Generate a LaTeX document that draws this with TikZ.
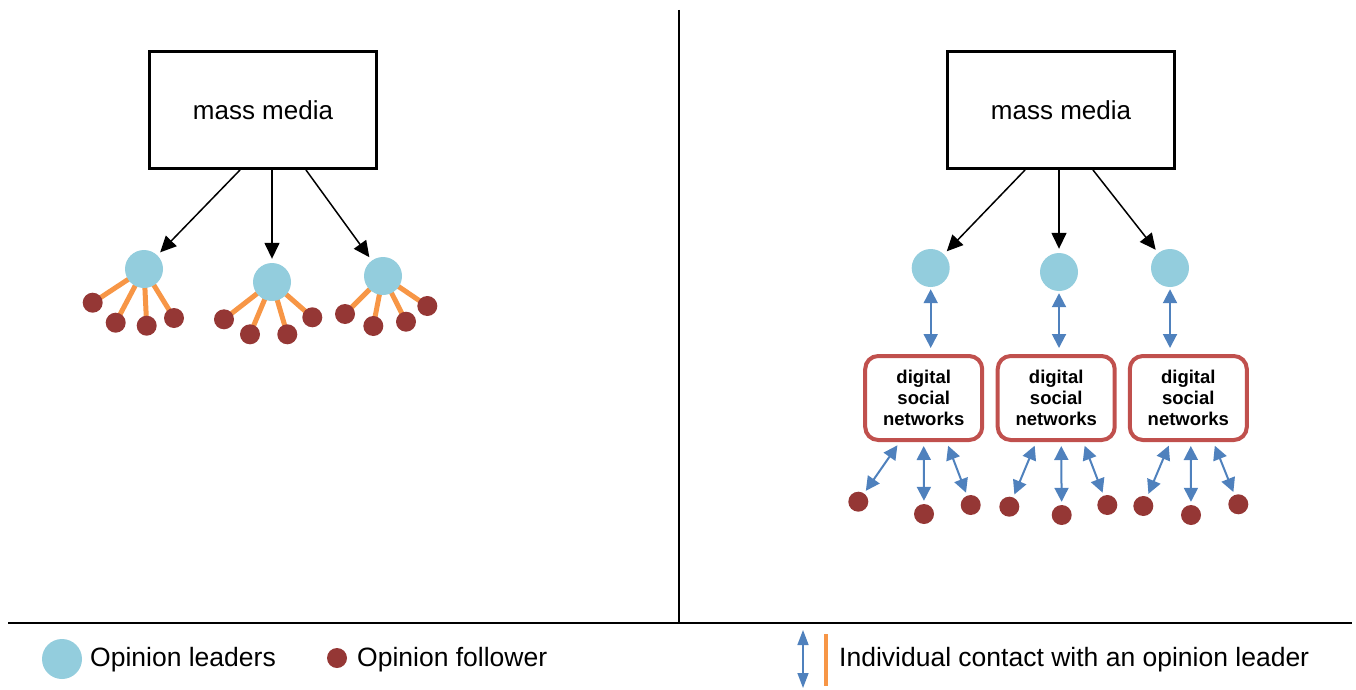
\documentclass[tikz,border=0pt]{standalone}
\usepackage{fontspec}
\setmainfont{Liberation Sans}
\usetikzlibrary{arrows.meta,calc}
\definecolor{leader}{HTML}{93CDDD}
\definecolor{follower}{HTML}{953735}
\definecolor{dsnred}{HTML}{C0504D}
\definecolor{linkblue}{HTML}{4F81BD}
\definecolor{tieorange}{HTML}{F79646}
\pgfdeclarelayer{bg}
\pgfsetlayers{bg,main}
\begin{document}
\begin{tikzpicture}[x=1pt,y=-1pt,
 leadernode/.style={circle,fill=leader,minimum size=38pt,inner sep=0pt},
 follownode/.style={circle,fill=follower,minimum size=20pt,inner sep=0pt},
 mediabox/.style={draw,line width=3pt,minimum width=227pt,minimum height=117pt,font=\fontsize{26}{30}\selectfont},
 dsnbox/.style={draw=dsnred,line width=4pt,rounded corners=13pt,minimum width=117pt,minimum height=84pt,align=center,inner sep=0pt,font=\fontsize{18.5}{21}\selectfont\bfseries},
 mediaarrow/.style={-{Triangle[length=16pt,width=15pt]},line width=1.5pt,shorten >=4pt},
 link/.style={{Triangle[length=14pt,width=14pt]}-{Triangle[length=14pt,width=14pt]},color=linkblue,line width=2pt},
 tie/.style={draw=tieorange,line width=5pt},
 legendtext/.style={anchor=west,inner sep=0pt,font=\fontsize{26.5}{30}\selectfont},
 ]
\useasboundingbox (0,0) rectangle (1356,690);

% frame lines
\coordinate (vtop) at (679,10);
\coordinate (vbot) at (679,623);
\coordinate (hl) at (8,623);
\coordinate (hr) at (1352,623);
\draw[line width=1.5pt] (vtop) -- (vbot);
\draw[line width=2pt] (hl) -- (hr);

% ---------------- left panel ----------------
\node[mediabox] (mmL) at (263,110) {mass media};
\node[leadernode] (L1) at (144,269) {};
\node[leadernode] (L2) at (272,282) {};
\node[leadernode] (L3) at (383,276) {};

\draw[mediaarrow] ($(mmL.south)+(-23,0)$) -- (L1);
\draw[mediaarrow] ($(mmL.south)+(9,0)$) -- (L2);
\draw[mediaarrow] ($(mmL.south)+(43,0)$) -- (L3);

\node[follownode] (a1) at (92.7,302.7) {};
\node[follownode] (a2) at (115.7,322.7) {};
\node[follownode] (a3) at (146.7,325.7) {};
\node[follownode] (a4) at (174,318) {};
\node[follownode] (b1) at (224,319.3) {};
\node[follownode] (b2) at (250,334.3) {};
\node[follownode] (b3) at (287.3,334.3) {};
\node[follownode] (b4) at (312.3,317.3) {};
\node[follownode] (c1) at (345,314) {};
\node[follownode] (c2) at (373.3,326) {};
\node[follownode] (c3) at (406,321.7) {};
\node[follownode] (c4) at (427.3,306) {};

\begin{pgfonlayer}{bg}
\foreach \f in {a1,a2,a3,a4} \draw[tie] (L1.center) -- (\f.center);
\foreach \f in {b1,b2,b3,b4} \draw[tie] (L2.center) -- (\f.center);
\foreach \f in {c1,c2,c3,c4} \draw[tie] (L3.center) -- (\f.center);
\end{pgfonlayer}

% ---------------- right panel ----------------
\node[mediabox] (mmR) at (1061,110) {mass media};
\node[leadernode] (R1) at (930.7,268) {};
\node[leadernode] (R2) at (1059,272) {};
\node[leadernode] (R3) at (1170,268) {};

\draw[mediaarrow] ($(mmR.south)+(-36,0)$) -- (R1);
\draw[mediaarrow] (mmR.south -| R2) -- (R2);
\draw[mediaarrow] ($(mmR.south)+(32,0)$) -- (R3);

\node[dsnbox] (D1) at (923.7,398) {digital\\social\\networks};
\node[dsnbox] (D2) at (1056.2,398) {digital\\social\\networks};
\node[dsnbox] (D3) at (1188.3,398) {digital\\social\\networks};

\draw[link,shorten <=2pt,shorten >=6pt] (R1.south) -- (R1.south |- D1.north);
\draw[link,shorten <=2pt,shorten >=6pt] (R2.south) -- (R2.south |- D2.north);
\draw[link,shorten <=2pt,shorten >=6pt] (R3.south) -- (R3.south |- D3.north);

\node[follownode] (p1) at (858.3,501.7) {};
\node[follownode] (p2) at (924,514) {};
\node[follownode] (p3) at (970.7,505) {};
\node[follownode] (q1) at (1009.3,506.7) {};
\node[follownode] (q2) at (1061.7,515) {};
\node[follownode] (q3) at (1107.3,505) {};
\node[follownode] (s1) at (1143.3,506) {};
\node[follownode] (s2) at (1191,515) {};
\node[follownode] (s3) at (1238.3,504.3) {};

\draw[link,shorten <=4pt,shorten >=3pt] ($(D1.south)+(-24,0)$) -- (p1);
\draw[link,shorten <=4pt,shorten >=3pt] ($(D1.south)+(0,0)$) -- (p2);
\draw[link,shorten <=4pt,shorten >=3pt] ($(D1.south)+(23,0)$) -- (p3);
\draw[link,shorten <=4pt,shorten >=3pt] ($(D2.south)+(-20,0)$) -- (q1);
\draw[link,shorten <=4pt,shorten >=3pt] ($(D2.south)+(5,0)$) -- (q2);
\draw[link,shorten <=4pt,shorten >=3pt] ($(D2.south)+(27,0)$) -- (q3);
\draw[link,shorten <=4pt,shorten >=3pt] ($(D3.south)+(-18,0)$) -- (s1);
\draw[link,shorten <=4pt,shorten >=3pt] ($(D3.south)+(2.5,0)$) -- (s2);
\draw[link,shorten <=4pt,shorten >=3pt] ($(D3.south)+(25,0)$) -- (s3);

% ---------------- legend ----------------
\node[circle,fill=leader,minimum size=40pt,inner sep=0pt] (legL) at (62,659) {};
\node[legendtext] (legLt) at (90,660) {Opinion leaders};
\node[follownode] (legF) at (337,658) {};
\node[legendtext] (legFt) at (357,660) {Opinion follower};
\coordinate (legAt) at (803,630);
\coordinate (legAb) at (803,688);
\draw[{Triangle[length=15pt,width=11pt]}-{Triangle[length=15pt,width=11pt]},color=linkblue,line width=1.5pt] (legAt) -- (legAb);
\coordinate (legOt) at (826,634);
\coordinate (legOb) at (826,686);
\draw[draw=tieorange,line width=4pt] (legOt) -- (legOb);
\node[legendtext] (legCt) at (839,660) {Individual contact with an opinion leader};
\end{tikzpicture}
\end{document}
